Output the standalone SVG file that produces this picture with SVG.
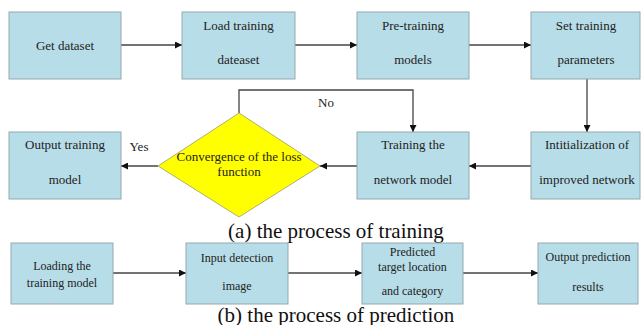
<svg xmlns="http://www.w3.org/2000/svg" width="641" height="325" viewBox="0 0 641 325">
<defs>
<marker id="ah" viewBox="0 0 10 10" refX="10" refY="5" markerWidth="7" markerHeight="7" orient="auto" markerUnits="userSpaceOnUse">
<path d="M0,0 L10,5 L0,10 z" fill="#111"/>
</marker>
<style>
.box{fill:#b7dde8;stroke:#93a9b0;stroke-width:1}
.dia{fill:#ffff00;stroke:#b0b070;stroke-width:1}
.t{font-family:"Liberation Serif","Times New Roman",serif;font-size:13px;fill:#222;text-anchor:middle}
.s{font-size:12px}
.cap{font-family:"Liberation Serif","Times New Roman",serif;font-size:21px;fill:#111;text-anchor:middle}
.c{fill:none;stroke:#444;stroke-width:1.3}
</style>
</defs>
<rect width="641" height="325" fill="#fff"/>
<g id="connectors">
<line class="c" x1="121" y1="45" x2="182" y2="45" marker-end="url(#ah)"/>
<line class="c" x1="295" y1="45" x2="357" y2="45" marker-end="url(#ah)"/>
<line class="c" x1="469" y1="45" x2="531" y2="45" marker-end="url(#ah)"/>
<line class="c" x1="587" y1="79" x2="587" y2="132" marker-end="url(#ah)"/>
<line class="c" x1="531" y1="166" x2="469" y2="166" marker-end="url(#ah)"/>
<line class="c" x1="357" y1="166" x2="320" y2="166" marker-end="url(#ah)"/>
<line class="c" x1="158" y1="166" x2="121" y2="166" marker-end="url(#ah)"/>
<polyline class="c" points="239,113 239,90 413,90 413,132" marker-end="url(#ah)"/>
<text class="t" x="326" y="107">No</text>
<text class="t" x="139" y="151">Yes</text>
<line class="c" x1="113" y1="273" x2="186" y2="273" marker-end="url(#ah)"/>
<line class="c" x1="288" y1="273" x2="362" y2="273" marker-end="url(#ah)"/>
<line class="c" x1="463" y1="273" x2="538" y2="273" marker-end="url(#ah)"/>
</g>
<g id="n1"><rect class="box" x="9" y="12" width="112" height="67"/><text class="t" x="65" y="50">Get dataset</text></g>
<g id="n2"><rect class="box" x="182" y="12" width="113" height="67"/><text class="t" x="238.5" y="30">Load training</text><text class="t" x="238.5" y="64">dateaset</text></g>
<g id="n3"><rect class="box" x="357" y="12" width="112" height="67"/><text class="t" x="413" y="30">Pre-training</text><text class="t" x="413" y="64">models</text></g>
<g id="n4"><rect class="box" x="531" y="12" width="109" height="67"/><text class="t" x="586" y="30">Set training</text><text class="t" x="586" y="64">parameters</text></g>
<g id="n5"><rect class="box" x="531" y="132" width="109" height="67"/><text class="t" x="587" y="149">Intitialization of</text><text class="t" x="587" y="184">improved network</text></g>
<g id="n6"><rect class="box" x="357" y="132" width="112" height="67"/><text class="t" x="413" y="149">Training the</text><text class="t" x="413" y="184">network model</text></g>
<g id="n7"><polygon class="dia" points="239,113 320,166 239,217 158,166"/><text class="t" x="239" y="161">Convergence of the loss</text><text class="t" x="239" y="176">function</text></g>
<g id="n8"><rect class="box" x="9" y="132" width="112" height="67"/><text class="t" x="65" y="149">Output training</text><text class="t" x="65" y="184">model</text></g>
<text class="cap" x="336" y="238">(a) the process of training</text>
<g id="m1"><rect class="box" x="11" y="243" width="102" height="61"/><text class="t s" x="62" y="270">Loading the</text><text class="t s" x="62" y="287">training model</text></g>
<g id="m2"><rect class="box" x="186" y="243" width="102" height="61"/><text class="t s" x="237" y="262">Input detection</text><text class="t s" x="237" y="290">image</text></g>
<g id="m3"><rect class="box" x="362" y="243" width="101" height="61"/><text class="t s" x="412.5" y="256">Predicted</text><text class="t s" x="412.5" y="271">target location</text><text class="t s" x="412.5" y="295">and category</text></g>
<g id="m4"><rect class="box" x="538" y="243" width="100" height="61"/><text class="t s" x="588" y="261">Output prediction</text><text class="t s" x="588" y="291">results</text></g>
<text class="cap" x="336" y="322">(b) the process of prediction</text>
</svg>
